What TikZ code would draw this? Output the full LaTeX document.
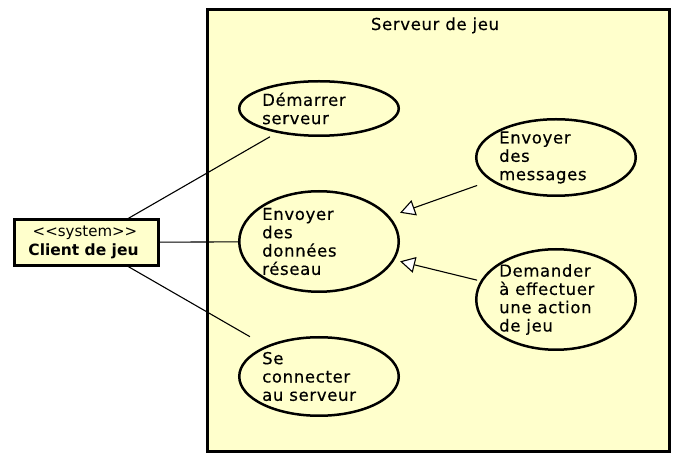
\documentclass[tikz,border=0pt]{standalone}
\usepackage{fontspec}
\setmainfont{DejaVu Sans}
\newfontfamily\ucfont[LetterSpace=4,FakeBold=0.4]{DejaVu Sans}
\usetikzlibrary{shapes.geometric,arrows.meta,calc}
\definecolor{ucyellow}{HTML}{FFFFCC}
\begin{document}
\begin{tikzpicture}[x=1pt,y=-1pt,
  uc/.style={ellipse,draw,line width=2.5pt,fill=ucyellow,minimum width=159.5pt,inner sep=0pt},
  uctext/.style={anchor=west,align=left,inner sep=0pt,font=\ucfont\fontsize{16.5}{18.3}\selectfont},
  assoc/.style={line width=1.1pt},
  gen/.style={line width=1.1pt,-{Triangle[length=15pt,width=16pt,fill=white]}}
]
\useasboundingbox[fill=white] (0,0) rectangle (681,462);
% system boundary
\draw[line width=3pt,fill=ucyellow] (207.5,9.5) rectangle (669.5,451.5);
\node[anchor=base,inner sep=0pt,font=\ucfont\fontsize{16.5}{18}\selectfont] (title) at (435,30) {Serveur de jeu};
% use cases
\node[uc,minimum height=54.5pt] (dem) at (319,108.5) {};
\node[uc,minimum height=100.5pt] (don) at (319,241.5) {};
\node[uc,minimum height=78.5pt] (con) at (319,376.5) {};
\node[uc,minimum height=76.5pt] (msg) at (556,157.5) {};
\node[uc,minimum height=100.5pt] (dmd) at (556,299.5) {};
\node[uctext] (demt) at ([xshift=24pt]dem.west) {Démarrer\\serveur};
\node[uctext] (dont) at ([xshift=24pt]don.west) {Envoyer\\des\\données\\réseau};
\node[uctext] (cont) at ([xshift=24pt]con.west) {Se\\connecter\\au serveur};
\node[uctext] (msgt) at ([xshift=24pt]msg.west) {Envoyer\\des\\messages};
\node[uctext] (dmdt) at ([xshift=24pt]dmd.west) {Demander\\à effectuer\\une action\\de jeu};
% actor
\node[draw,line width=3pt,fill=ucyellow,minimum width=144pt,minimum height=46pt,inner sep=0pt,align=center,font=\fontsize{15}{19}\selectfont] (client) at (86.5,242.5)
  {<\kern0pt<system>\kern0pt>\hspace*{3pt}\\{\fontsize{15.5}{19}\selectfont\bfseries Client de jeu}\hspace*{6pt}};
% connectors
\draw[assoc] ($(client)!0.178!(dem)$) -- ($(client)!0.789!(dem)$);
\draw[assoc] (client) -- (don);
\draw[assoc] ($(client)!0.178!(con)$) -- ($(client)!0.703!(con)$);
\draw[gen] ($(msg)!0.333!(don)$) -- ($(msg)!0.658!(don)$);
\draw[gen] ($(dmd)!0.333!(don)$) -- ($(dmd)!0.658!(don)$);
\end{tikzpicture}
\end{document}
